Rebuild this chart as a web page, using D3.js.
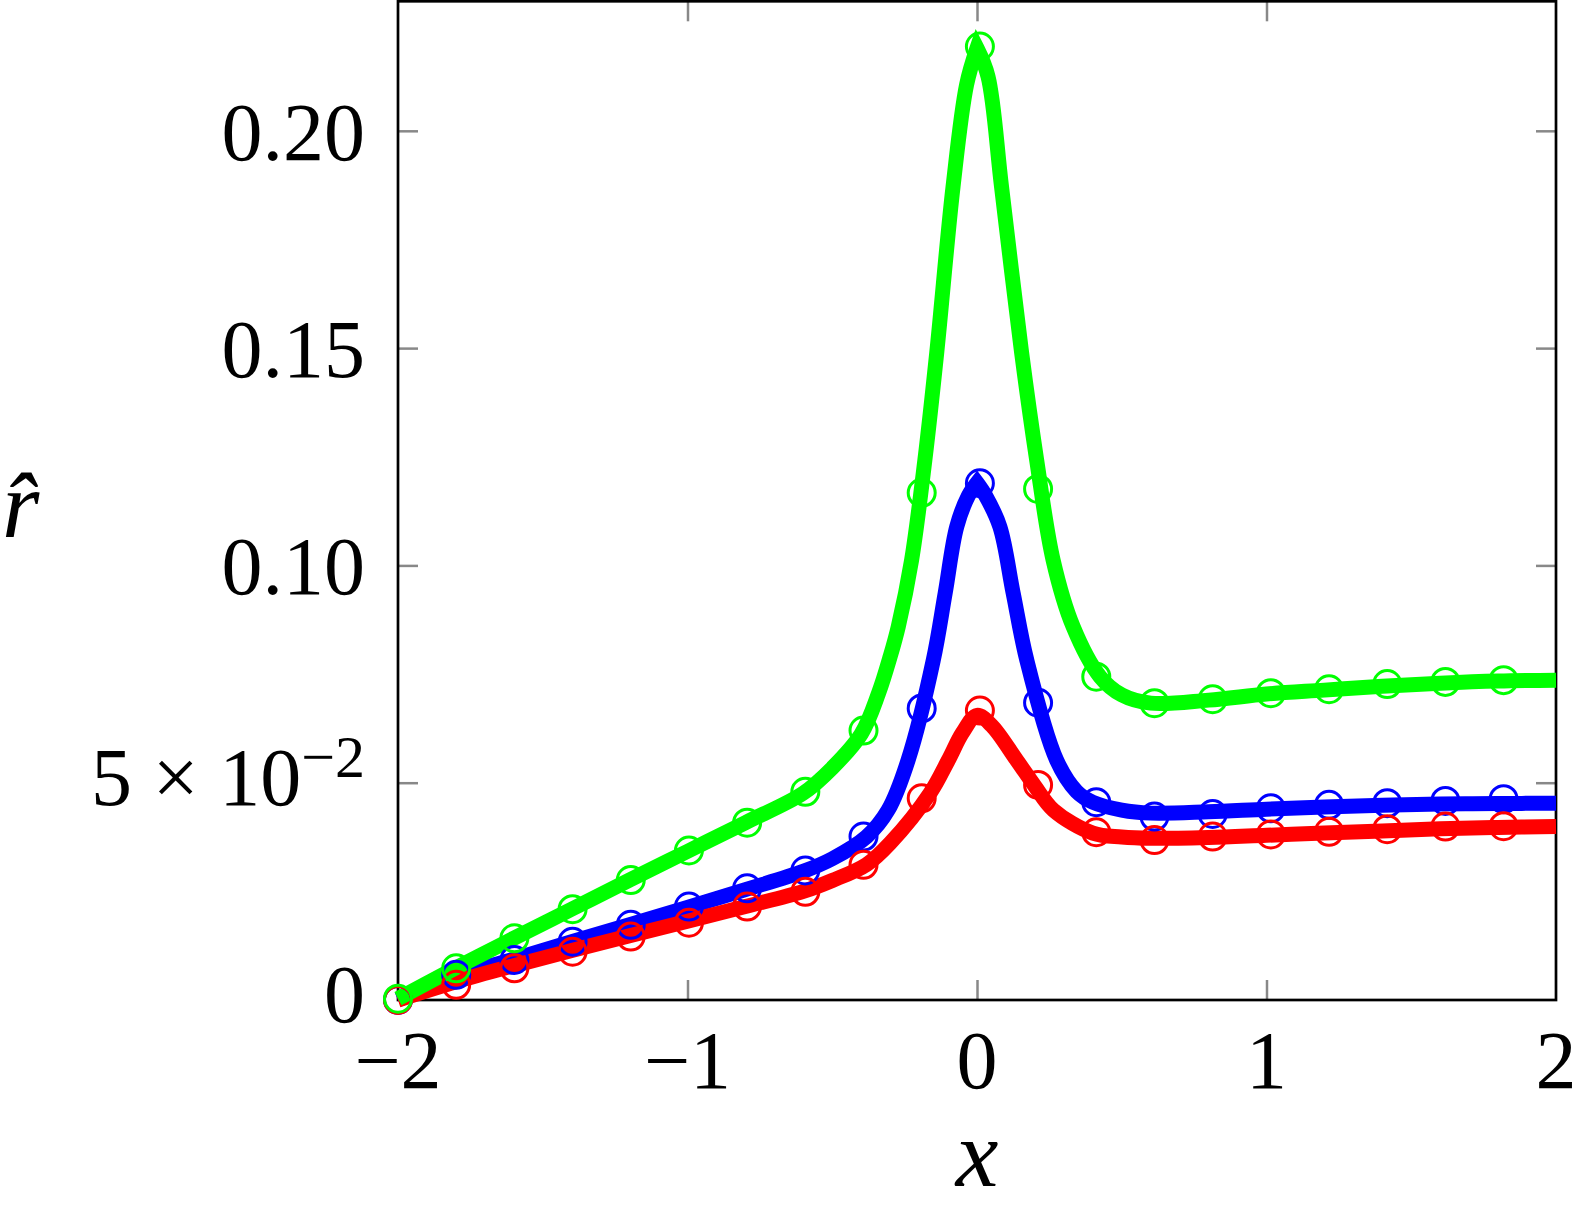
<!DOCTYPE html>
<html>
<head>
<meta charset="utf-8">
<script src="https://cdn.jsdelivr.net/npm/d3@7"></script>
<style>
  body { margin: 0; background: #fff; }
  text { font-family: "Liberation Serif", "Times New Roman", serif; fill: #000; }
</style>
</head>
<body>
<svg id="chart"></svg>
<script>
// Axis ticks
const xTicks = [-2, -1, 0, 1, 2];
const xTickLabels = ['\u22122', '\u22121', '0', '1', '2'];
const yTicks = [0, 0.05, 0.10, 0.15, 0.20];
const yTickLabels = ['0', '5 \u00d7 10^\u22122', '0.10', '0.15', '0.20'];

// Marker positions (every 10th point of the solution grid)
const markerX = [-2.000, -1.799, -1.598, -1.397, -1.196, -0.995, -0.794, -0.593, -0.392, -0.191,
  0.010, 0.211, 0.412, 0.613, 0.814, 1.015, 1.216, 1.417, 1.618, 1.819];
const greenMarkers = [0.0003, 0.0073, 0.0142, 0.0209, 0.0276, 0.0344, 0.0408, 0.0479, 0.0620, 0.1167,
  0.2194, 0.1176, 0.0744, 0.0683, 0.0692, 0.0706, 0.0715, 0.0727, 0.0732, 0.0736];
const blueMarkers = [0.0000, 0.0058, 0.0092, 0.0134, 0.0173, 0.0215, 0.0257, 0.0298, 0.0376, 0.0671,
  0.1189, 0.0684, 0.0455, 0.0422, 0.0428, 0.0441, 0.0449, 0.0453, 0.0458, 0.0462];
const redMarkers = [0.0000, 0.0035, 0.0073, 0.0111, 0.0146, 0.0178, 0.0215, 0.0249, 0.0311, 0.0464,
  0.0666, 0.0495, 0.0386, 0.0368, 0.0376, 0.0381, 0.0387, 0.0393, 0.0399, 0.0400];

const greenLine = [[-2, 0.0003], [-1.8, 0.0074], [-1.6, 0.0142], [-1.4, 0.0209], [-1.2, 0.0276],
  [-1.0, 0.0342], [-0.8, 0.0408], [-0.6, 0.0476], [-0.5, 0.0534], [-0.4, 0.0612], [-0.34, 0.0706],
  [-0.3, 0.0790], [-0.272, 0.0859], [-0.226, 0.1012], [-0.18, 0.1243], [-0.139, 0.149],
  [-0.083, 0.187], [-0.036, 0.2106], [0, 0.2190], [0.038, 0.2125], [0.085, 0.187], [0.154, 0.149],
  [0.206, 0.1243], [0.263, 0.1012], [0.332, 0.0859], [0.425, 0.0744], [0.5, 0.0702], [0.6, 0.0683],
  [0.8, 0.0690], [1.0, 0.0704], [1.2, 0.0713], [1.4, 0.0722], [1.6, 0.0729], [1.8, 0.0734], [2.0, 0.0736]];
const blueLine = [[-2, 0], [-1.8, 0.0055], [-1.6, 0.0094], [-1.4, 0.0134], [-1.2, 0.0173],
  [-1.0, 0.0213], [-0.8, 0.0254], [-0.6, 0.0296], [-0.5, 0.0325], [-0.381, 0.0376], [-0.307, 0.0437],
  [-0.238, 0.0552], [-0.151, 0.0782], [-0.11, 0.0936], [-0.07, 0.1089], [-0.03, 0.1160], [0, 0.1190],
  [0.03, 0.1160], [0.079, 0.1089], [0.125, 0.0936], [0.172, 0.0782], [0.275, 0.0552], [0.344, 0.0480],
  [0.4, 0.0455], [0.5, 0.0437], [0.6, 0.0430], [0.8, 0.0433], [1.0, 0.0439], [1.2, 0.0444],
  [1.4, 0.0448], [1.6, 0.0451], [1.8, 0.0452], [2.0, 0.0453]];
const redLine = [[-2, 0], [-1.8, 0.0042], [-1.6, 0.0079], [-1.4, 0.0114], [-1.2, 0.0148],
  [-1.0, 0.0181], [-0.8, 0.0215], [-0.6, 0.0250], [-0.5, 0.0275], [-0.381, 0.0312], [-0.3, 0.0361],
  [-0.162, 0.0476], [-0.099, 0.0552], [-0.05, 0.0615], [0, 0.0655], [0.05, 0.0632], [0.137, 0.0552],
  [0.2, 0.0492], [0.264, 0.0437], [0.4, 0.0384], [0.5, 0.0375], [0.6, 0.0372], [0.8, 0.0374],
  [1.0, 0.0379], [1.2, 0.0384], [1.4, 0.0389], [1.6, 0.0394], [1.8, 0.0397], [2.0, 0.0399]];

const width = 1577;
const height = 1218;
const plot = { left: 398, right: 1556, top: 1.3, bottom: 1000 };

const svg = d3.select('#chart')
  .attr('width', width)
  .attr('height', height);

const x = d3.scaleLinear().domain([-2, 2]).range([plot.left, plot.right]);
const y = d3.scaleLinear().domain([0, 0.2298]).range([plot.bottom, plot.top]);

// Inward gray ticks on all four sides
function drawTicks(axis, tx, ty) {
  const g = svg.append('g')
    .attr('transform', `translate(${tx},${ty})`)
    .call(axis.tickSize(-20).tickFormat(''));
  g.select('.domain').remove();
  g.selectAll('.tick line').attr('stroke', '#888').attr('stroke-width', 2.5);
}
drawTicks(d3.axisBottom(x).tickValues(xTicks.slice(1, -1)), 0, plot.bottom);
drawTicks(d3.axisTop(x).tickValues(xTicks.slice(1, -1)), 0, plot.top);
drawTicks(d3.axisLeft(y).tickValues(yTicks.slice(1)), plot.left, 0);
drawTicks(d3.axisRight(y).tickValues(yTicks.slice(1)), plot.right, 0);

// Frame
svg.append('rect')
  .attr('x', plot.left)
  .attr('y', plot.top)
  .attr('width', plot.right - plot.left)
  .attr('height', plot.bottom - plot.top)
  .attr('fill', 'none')
  .attr('stroke', '#000')
  .attr('stroke-width', 2.7);

// Curves
const line = d3.line()
  .x(d => x(d[0]))
  .y(d => y(d[1]))
  .curve(d3.curveCatmullRom.alpha(0.5));

// Smooth flanks but a pointed apex at x = 0: join the two halves into one path
function peakedPath(data) {
  const left = line(data.filter(d => d[0] <= 0));
  const right = line(data.filter(d => d[0] >= 0));
  return left + right.replace(/^M[^A-Za-z]*/, '');
}

const series = [
  { line: blueLine, markers: blueMarkers, color: '#0000ff', sharp: true },
  { line: redLine, markers: redMarkers, color: '#ff0000', sharp: false },
  { line: greenLine, markers: greenMarkers, color: '#00ff00', sharp: true }
];

series.forEach(s => {
  svg.append('path')
    .attr('d', s.sharp ? peakedPath(s.line) : line(s.line))
    .attr('fill', 'none')
    .attr('stroke', s.color)
    .attr('stroke-width', 15)
    .attr('stroke-linejoin', 'miter')
    .attr('stroke-miterlimit', 10);
});

series.forEach(s => {
  svg.append('g')
    .selectAll('circle')
    .data(s.markers.map((v, i) => [markerX[i], v]))
    .join('circle')
    .attr('cx', d => x(d[0]))
    .attr('cy', d => y(d[1]))
    .attr('r', 13.5)
    .attr('fill', 'none')
    .attr('stroke', s.color)
    .attr('stroke-width', 3);
});

// Tick labels
svg.append('g')
  .selectAll('text')
  .data(xTicks)
  .join('text')
  .attr('x', d => x(d))
  .attr('y', 1088)
  .attr('text-anchor', 'middle')
  .attr('font-size', 82)
  .text((d, i) => xTickLabels[i]);

yTicks.forEach((v, i) => {
  const label = yTickLabels[i];
  const t = svg.append('text')
    .attr('x', 365)
    .attr('text-anchor', 'end')
    .attr('font-size', 82);
  if (label.includes('^')) {
    const parts = label.split('^');
    t.attr('y', y(v) + 22);
    t.append('tspan').text(parts[0]);
    t.append('tspan').attr('font-size', 60).attr('dy', -28).text(parts[1]);
  } else {
    t.attr('y', y(v) + (v === 0 ? 22 : 29)).text(label);
  }
});

// Axis labels
svg.append('text')
  .attr('x', x(0))
  .attr('y', 1186)
  .attr('text-anchor', 'middle')
  .attr('font-size', 96)
  .attr('font-style', 'italic')
  .text('x');

svg.append('text')
  .attr('x', 2)
  .attr('y', 537)
  .attr('font-size', 96)
  .attr('font-style', 'italic')
  .text('r\u0302');
</script>
</body>
</html>
